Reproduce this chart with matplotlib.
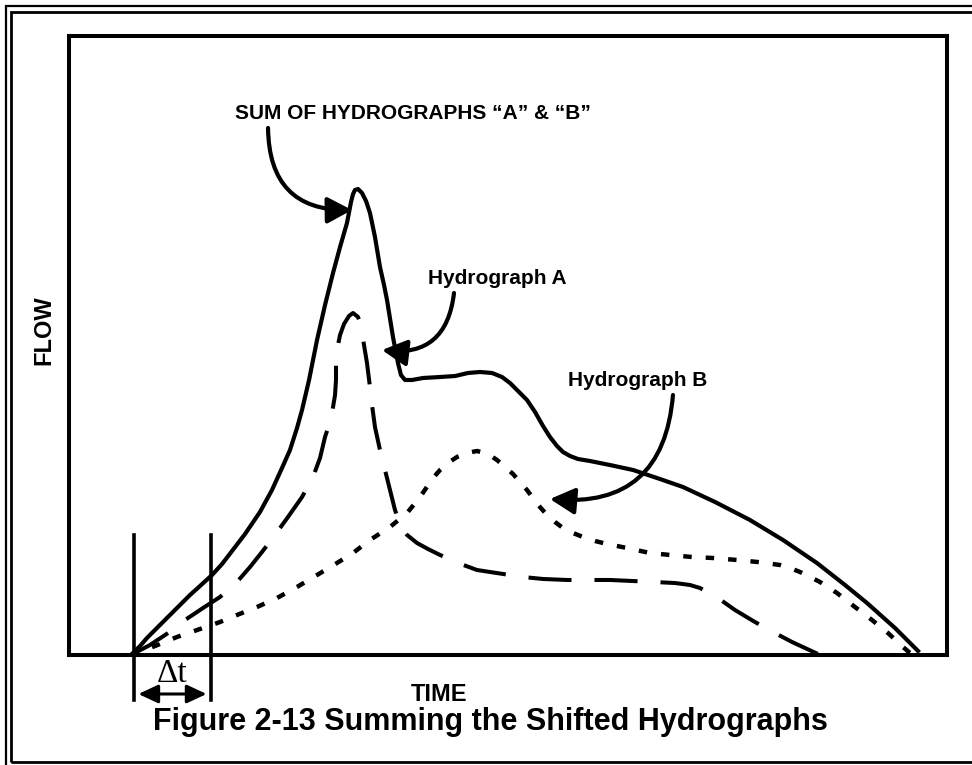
import matplotlib.pyplot as plt
from matplotlib.patches import Rectangle

# figure is 972 x 765 px at dpi 100
W, H = 972, 765

# hydrograph ordinates (time, flow) in chart units 0..100
sum_t = [7.06, 8.09, 8.88, 10.36, 12.07, 13.78, 14.92, 16.29, 17.43, 18.57, 20.05, 21.75,
         23.12, 24.26, 25.17, 25.97, 26.54, 27.34, 28.25, 29.16, 30.07, 30.87, 31.66, 32.12,
         32.35, 32.57, 32.92, 33.37, 33.83, 34.28, 34.85, 35.42, 35.88, 36.22, 36.90, 37.47,
         37.81, 38.27, 39.07, 40.32, 42.26, 43.97, 45.45, 46.81, 48.18, 49.32, 50.23, 51.14,
         52.16, 53.08, 53.99, 54.78, 55.58, 56.27, 57.06, 57.97, 59.34, 61.62, 64.24, 67.31,
         69.93, 73.58, 77.56, 81.32, 85.19, 88.38, 90.89, 94.08, 96.70]
sum_q = [0.00, 1.45, 2.75, 4.85, 7.27, 9.69, 11.15, 12.92, 14.70, 16.80, 19.55, 23.10,
         26.66, 30.21, 33.12, 36.67, 39.58, 44.43, 50.89, 56.54, 61.71, 65.91, 69.79, 73.18,
         74.47, 75.12, 75.28, 74.64, 73.34, 71.41, 67.53, 62.68, 59.77, 57.35, 51.37, 47.17,
         45.23, 44.43, 44.43, 44.75, 44.91, 45.07, 45.56, 45.72, 45.56, 44.91, 43.94, 42.65,
         41.20, 39.26, 36.99, 35.22, 33.76, 32.79, 32.15, 31.66, 31.34, 30.69, 29.89, 28.43,
         27.14, 24.72, 21.81, 18.58, 14.86, 11.31, 8.40, 4.36, 0.65]

a_t = [7.06, 9.23, 11.28, 13.21, 15.26, 17.20, 19.13, 20.62, 21.98, 23.46, 24.94, 26.54,
       27.79, 28.59, 29.16, 29.61, 29.96, 30.30, 30.41, 30.41, 30.52, 30.87, 31.32, 31.89,
       32.35, 32.92, 33.26, 33.60, 33.94, 34.28, 34.51, 34.85, 35.42, 35.99, 36.56, 37.13,
       37.81, 38.50, 39.64, 40.89, 42.26, 44.31, 46.47, 47.95, 49.43, 51.71, 53.99, 56.72,
       59.34, 61.62, 64.24, 66.74, 69.02, 70.73, 71.87, 73.92, 75.85, 78.13, 80.18, 82.35,
       83.83, 85.31]
a_q = [0.00, 1.62, 3.55, 5.65, 7.59, 9.37, 11.79, 14.22, 16.64, 19.39, 22.29, 25.52,
       28.76, 31.83, 35.22, 37.16, 39.10, 42.00, 44.43, 46.85, 49.27, 51.70, 53.47, 54.77,
       55.25, 54.60, 53.15, 50.08, 47.17, 43.30, 40.39, 36.83, 33.12, 29.89, 26.66, 23.42,
       20.68, 19.39, 18.09, 17.12, 16.16, 14.86, 13.73, 13.41, 13.09, 12.60, 12.28, 12.12,
       12.12, 12.12, 11.95, 11.79, 11.63, 11.31, 10.82, 9.21, 7.27, 5.33, 3.72, 2.10,
       1.13, 0.16]

b_t = [7.06, 9.80, 12.30, 14.92, 17.20, 19.13, 21.41, 23.69, 25.97, 28.25, 30.52, 32.35,
       34.28, 36.56, 38.50, 39.98, 41.46, 42.26, 43.17, 44.19, 45.33, 46.47, 47.72, 48.75,
       49.66, 50.57, 51.37, 52.16, 52.85, 53.64, 54.44, 55.35, 56.26, 57.40, 58.54, 59.91,
       61.28, 63.55, 66.17, 68.45, 70.96, 73.35, 76.08, 78.47, 80.98, 82.12, 83.26, 84.40,
       85.54, 87.47, 89.52, 91.46, 93.28, 94.99, 95.79]
b_q = [0.00, 1.45, 2.91, 4.20, 5.33, 6.46, 7.75, 9.21, 10.99, 12.92, 14.86, 16.48,
       18.58, 20.68, 22.94, 25.52, 28.59, 29.89, 31.02, 31.99, 32.63, 32.96, 32.47, 31.50,
       30.37, 29.24, 27.95, 26.66, 25.36, 23.91, 22.62, 21.49, 20.52, 19.71, 19.06, 18.42,
       17.93, 17.29, 16.48, 16.16, 15.83, 15.67, 15.35, 15.02, 14.54, 14.05, 13.41, 12.60,
       11.79, 10.02, 7.75, 5.65, 3.55, 1.29, 0.32]

# time shift between the two hydrographs
t_start = 7.4
dt = 8.77


def fx(px):
    return px / W


def fy(py):
    return 1 - py / H


fig = plt.figure(figsize=(W / 100, H / 100), dpi=100)
ax = fig.add_axes([fx(69), fy(655), (947 - 69) / W, (655 - 36) / H])
ax.set_xlim(0, 100)
ax.set_ylim(0, 100)
ax.set_xticks([])
ax.set_yticks([])
for s in ax.spines.values():
    s.set_linewidth(2.9)

ax.plot(sum_t, sum_q, color="black", lw=3.0, solid_joinstyle="round")
ax.plot(a_t, a_q, color="black", lw=2.9, dashes=(10.7, 5.7), dash_joinstyle="round")
ax.plot(b_t, b_q, color="black", lw=3.2, dashes=(1.9, 3.15))

# delta t markers below the origin
for t in (t_start, t_start + dt):
    ax.plot([t, t], [19.4, -7.3], color="black", lw=2.6, clip_on=False)
ax.annotate("", xy=(t_start + 0.5, -6.3), xytext=(t_start + dt - 0.5, -6.3),
            arrowprops=dict(arrowstyle="<|-|>,head_length=0.6,head_width=0.28",
                            mutation_scale=20, color="black", lw=2.2,
                            shrinkA=0, shrinkB=0), annotation_clip=False)
ax.text(t_start + dt / 2, -4.35, "Δt", ha="center", va="baseline",
        fontsize=24, family="Liberation Serif", clip_on=False)

arrow = dict(arrowstyle="-|>,head_length=0.75,head_width=0.4", mutation_scale=20,
             color="black", lw=3.0, shrinkA=0, shrinkB=0)

# callouts
ax.annotate("", xy=(32.23, 71.89), xytext=(22.67, 85.14),
            arrowprops=dict(arrow, connectionstyle="arc3,rad=0.5"))
ax.annotate("", xy=(35.65, 49.27), xytext=(43.85, 58.48),
            arrowprops=dict(arrow, connectionstyle="arc3,rad=-0.5"))
ax.annotate("", xy=(54.78, 25.2), xytext=(68.79, 42.0),
            arrowprops=dict(arrow, connectionstyle="arc3,rad=-0.5"))

bold = dict(family="Liberation Sans", weight="bold", color="black")
ax.text(39.18, 86.59, "SUM OF HYDROGRAPHS \u201cA\u201d & \u201cB\u201d",
        ha="center", va="baseline", fontsize=15, **bold)
ax.text(48.80, 59.94, "Hydrograph A", ha="center", va="baseline", fontsize=15, **bold)
ax.text(64.75, 43.46, "Hydrograph B", ha="center", va="baseline", fontsize=15, **bold)

fig.text(fx(44), fy(330), "FLOW", rotation=90, ha="center", va="center",
         fontsize=17, **bold)
fig.text(fx(439), fy(701), "TIME", ha="center", va="baseline", fontsize=17, **bold)
fig.text(fx(490), fy(730), "Figure 2-13 Summing the Shifted Hydrographs",
         ha="center", va="baseline", fontsize=22, **bold)

# double page border, open on the right
fig.patches.append(Rectangle((fx(5.5), fy(790)), fx(1000), fy(6) - fy(790),
                             transform=fig.transFigure, fill=False,
                             edgecolor="black", lw=1.6))
fig.patches.append(Rectangle((fx(11), fy(762)), fx(1000), fy(11.5) - fy(762),
                             transform=fig.transFigure, fill=False,
                             edgecolor="black", lw=2.0))

fig.savefig("out.png", dpi=100, facecolor="white")
